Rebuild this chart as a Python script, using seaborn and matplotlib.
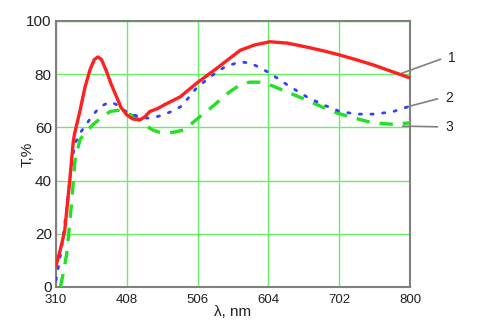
import numpy as np
import pandas as pd
import matplotlib
matplotlib.use('Agg')
import matplotlib.pyplot as plt
import seaborn as sns

# curve 1 (red, solid)
nm1 = [310, 315, 322, 329, 334, 336, 343, 350, 357, 363, 368, 373, 380, 386, 393, 400, 408, 416, 426,
       433, 440, 450, 460, 482, 505, 533, 565, 585, 606, 630, 657, 680, 703, 726, 749, 775, 800]
t1 = [8, 13, 21, 40, 55, 58, 66, 75, 81.6, 85.5, 86.5, 85.5, 81, 76.5, 72, 67.5, 64.7, 63.2, 62.8,
      64, 66, 67, 68.5, 71.5, 76.7, 82.3, 89, 91, 92.2, 91.7, 90.2, 88.8, 87.2, 85.4, 83.5, 81, 78.6]

# curve 2 (blue, dotted)
nm2 = [310, 313, 318, 325, 331, 336, 345, 353, 362, 371, 380, 387, 394, 401, 410, 422, 436, 447, 458,
       470, 482, 493, 505, 527, 545, 565, 579, 592, 606, 630, 657, 680, 703, 726, 749, 775, 800]
t2 = [2.6, 7, 15, 30, 45, 54, 58.5, 61.6, 65, 67.7, 69, 69.5, 68.5, 67, 65.5, 64.3, 63.5, 63.8, 64.7,
      66, 67.7, 71, 75, 79.7, 83, 84.6, 84.2, 82.5, 80.4, 76, 71.5, 68.5, 66, 65, 65, 65.8, 68]

# curve 3 (green, dashed)
nm3 = [316, 320, 325, 332, 336, 343, 352, 361, 372, 385, 398, 408, 422, 433, 444, 454, 464, 475, 486,
       498, 509, 523, 537, 551, 565, 578, 592, 606, 630, 657, 680, 699, 726, 749, 775, 800]
t3 = [0, 5, 12.8, 32.7, 47, 55.3, 58.5, 61, 63.5, 66, 66.5, 65.5, 63.5, 61, 59, 58.1, 57.9, 58.3, 59,
      61.5, 64, 67, 70.3, 73.5, 76, 77, 77, 76, 73.3, 70.3, 67.5, 65.4, 63.3, 61.7, 61.2, 61.7]

xticks = [310, 408, 506, 604, 702, 800]
yticks = [0, 20, 40, 60, 80, 100]
labels = ['1', '2', '3']

sns.set_style('white')
plt.rcParams['font.family'] = ['Liberation Sans', 'DejaVu Sans']

fig = plt.figure(figsize=(4.8, 3.28), dpi=100)
ax = fig.add_axes([56/480, 41/328, 354/480, 266/328])

df1 = pd.DataFrame({'nm': nm1, 'T': t1})
df2 = pd.DataFrame({'nm': nm2, 'T': t2})
df3 = pd.DataFrame({'nm': nm3, 'T': t3})

sns.lineplot(data=df3, x='nm', y='T', ax=ax, color='#22e022', lw=2.4, zorder=3)
ax.lines[-1].set_dashes([4, 3])
sns.lineplot(data=df2, x='nm', y='T', ax=ax, color='#3340ff', lw=2.0, zorder=4)
ax.lines[-1].set_dashes([0.8, 3.4])
ax.lines[-1].set_dash_capstyle('round')
sns.lineplot(data=df1, x='nm', y='T', ax=ax, color='#ff2020', lw=2.4, zorder=5)

ax.set_xlim(310, 800)
ax.set_ylim(0, 100)
ax.set_xticks(xticks)
ax.set_yticks(yticks)
ax.grid(True, color='#66f066', lw=1)
ax.set_axisbelow(True)
ax.tick_params(axis='x', labelsize=9.5, length=0, pad=5, colors='#222222')
ax.tick_params(axis='y', labelsize=11, length=0, pad=3, colors='#222222')
for s in ax.spines.values():
    s.set_color('#808080')
    s.set_linewidth(1.5)

ax.set_xlabel('λ, nm', fontsize=11, labelpad=-1, color='#222222')
ax.set_ylabel('T,%', fontsize=11, labelpad=-6, color='#222222')

# leader lines with curve numbers
starts = [(785, 80), (790, 67.3), (786, 60.5)]
ends = [(846, 86), (842, 71), (842, 60.2)]
for lab, p0, p1 in zip(labels, starts, ends):
    ax.annotate('', xy=p0, xytext=p1, annotation_clip=False,
                arrowprops=dict(arrowstyle='-', color='#808080', lw=1.2))
    ax.text(p1[0] + 7, p1[1], lab, fontsize=10, va='center', ha='left', clip_on=False, color='#222222')

fig.savefig('out.png', dpi=100)
